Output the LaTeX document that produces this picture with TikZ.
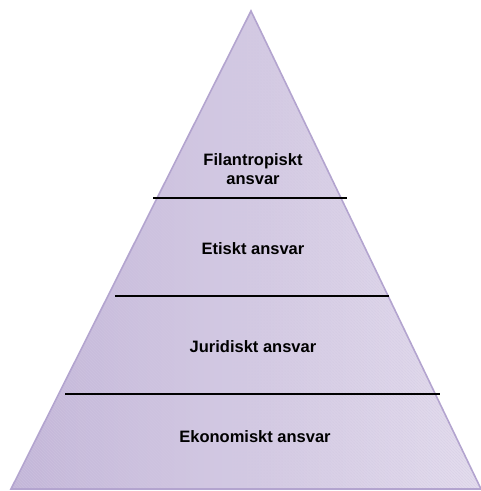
\documentclass[tikz,border=0pt]{standalone}
\usepackage{fontspec}
\setmainfont{Liberation Sans}
\usetikzlibrary{patterns}
\definecolor{pyrdark}{HTML}{C3B6D8}
\definecolor{pyrlight}{HTML}{E4DDEE}
\definecolor{pyredge}{HTML}{B3A4CF}
\begin{document}
\begin{tikzpicture}[x=1pt,y=-1pt,
  lbl/.style={font=\bfseries\fontsize{16.5}{19}\selectfont, align=center, text=black, inner sep=0pt},
  divider/.style={draw=black, line width=1.2pt}]
\useasboundingbox (0,0) rectangle (481,491);
\coordinate (apex) at (251,11);
\coordinate (bl) at (11,489);
\coordinate (br) at (481,489);
\shade[left color=pyrdark, right color=pyrlight] (apex) -- (bl) -- (br) -- cycle;
\fill[pattern=north west lines, pattern color=pyredge!60!white, opacity=0.45] (apex) -- (bl) -- (br) -- cycle;
\draw[pyredge, line width=1.6pt, line join=miter] (apex) -- (bl) -- (br) -- cycle;
\coordinate (d1l) at (153,198); \coordinate (d1r) at (347,198);
\coordinate (d2l) at (115,296); \coordinate (d2r) at (389,296);
\coordinate (d3l) at (65,394);  \coordinate (d3r) at (440,394);
\draw[divider] (d1l) -- (d1r);
\draw[divider] (d2l) -- (d2r);
\draw[divider] (d3l) -- (d3r);
\node[lbl] (fil) at (253,169) {Filantropiskt\\ansvar};
\node[lbl] (eti) at (253,249) {Etiskt ansvar};
\node[lbl] (jur) at (253,347) {Juridiskt ansvar};
\node[lbl] (eko) at (255,437) {Ekonomiskt ansvar};
\end{tikzpicture}
\end{document}
